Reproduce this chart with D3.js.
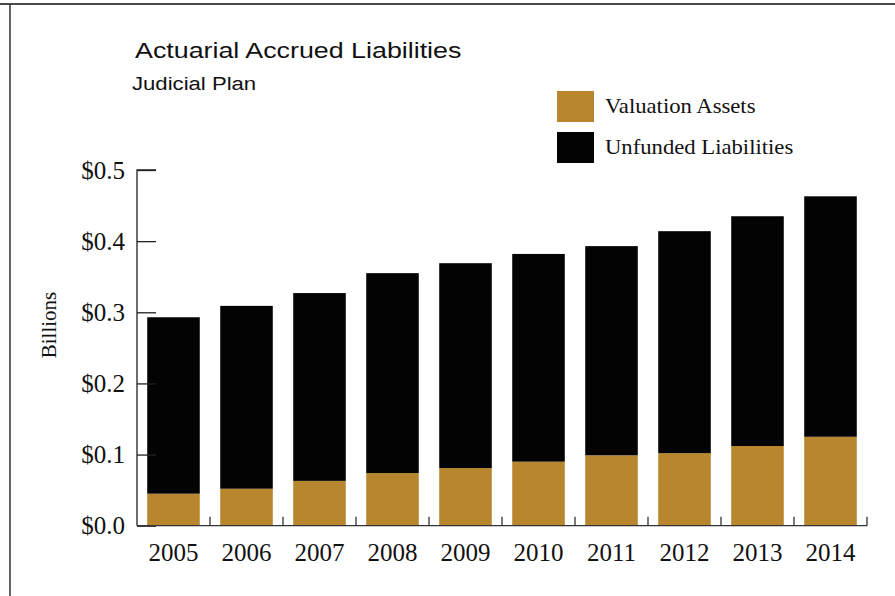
<!DOCTYPE html>
<html>
<head>
<meta charset="utf-8">
<script src="https://cdn.jsdelivr.net/npm/d3@7"></script>
<style>
  html, body { margin: 0; padding: 0; background: #fff; }
  svg { display: block; }
</style>
</head>
<body>
<svg id="chart" width="895" height="596"></svg>
<script>
// Judicial Plan, actuarial accrued liabilities in billions of dollars
const years = ["2005", "2006", "2007", "2008", "2009", "2010", "2011", "2012", "2013", "2014"];
const valuationAssets = [0.045, 0.052, 0.063, 0.074, 0.081, 0.090, 0.099, 0.102, 0.112, 0.125];
const unfundedLiabilities = [0.248, 0.257, 0.264, 0.281, 0.288, 0.292, 0.294, 0.312, 0.323, 0.338];
const yTicks = [0, 0.1, 0.2, 0.3, 0.4, 0.5];
const seriesNames = ["Valuation Assets", "Unfunded Liabilities"];
const seriesColors = ["#b8862f", "#030303"];

const svg = d3.select("#chart");
const serif = "'Liberation Serif', 'DejaVu Serif', serif";
const sans = "'Liberation Sans', Arial, sans-serif";

// outer frame: top and left rules only
svg.append("line").attr("x1", 0).attr("x2", 895).attr("y1", 4).attr("y2", 4)
  .attr("stroke", "#4a4a4a").attr("stroke-width", 2);
svg.append("line").attr("x1", 10).attr("x2", 10).attr("y1", 4).attr("y2", 596)
  .attr("stroke", "#333").attr("stroke-width", 1.5);

const plot = { left: 137, right: 867, top: 170, bottom: 525.7 };

const x = d3.scaleBand().domain(years).range([plot.left, plot.right]).paddingInner(0.28).paddingOuter(0.14);
const y = d3.scaleLinear().domain([0, 0.5]).range([plot.bottom, plot.top]);

const rows = years.map((yr, i) => ({ year: yr, assets: valuationAssets[i], unfunded: unfundedLiabilities[i] }));
const stacked = d3.stack().keys(["assets", "unfunded"])(rows);

svg.append("g").selectAll("g").data(stacked).join("g")
  .attr("fill", (d, i) => seriesColors[i])
  .selectAll("rect").data(d => d).join("rect")
  .attr("x", d => x(d.data.year))
  .attr("width", x.bandwidth())
  .attr("y", d => y(d[1]))
  .attr("height", d => y(d[0]) - y(d[1]));

// y axis: ticks point inward
const yAxis = svg.append("g").attr("transform", `translate(${plot.left},0)`)
  .call(d3.axisRight(y).tickValues(yTicks).tickSize(19).tickFormat(""));
yAxis.select(".domain").attr("d", `M19,${plot.top}H0V${plot.bottom}`).attr("stroke", "#222").attr("stroke-width", 1.3);
yAxis.selectAll(".tick line").attr("stroke", "#222").attr("stroke-width", 1.3);

svg.append("g").selectAll("text").data(yTicks).join("text")
  .attr("x", 125).attr("y", d => y(d) + 8.5)
  .attr("text-anchor", "end")
  .attr("font-family", serif).attr("font-size", 25).attr("fill", "#111")
  .text(d => "$" + d.toFixed(1));

// x axis: line along zero with short upward ticks between bars
const step = x.step();
const bounds = years.map(yr => x(yr) + x.bandwidth() + step * x.paddingInner() / 2);
bounds[bounds.length - 1] = plot.right;
svg.append("line").attr("x1", plot.left).attr("x2", plot.right)
  .attr("y1", plot.bottom).attr("y2", plot.bottom)
  .attr("stroke", "#333").attr("stroke-width", 1.3);
svg.append("g").selectAll("line").data(bounds).join("line")
  .attr("x1", d => d).attr("x2", d => d)
  .attr("y1", plot.bottom).attr("y2", plot.bottom - 9)
  .attr("stroke", "#333").attr("stroke-width", 1.3);

svg.append("g").selectAll("text").data(years).join("text")
  .attr("x", d => x(d) + x.bandwidth() / 2).attr("y", 561)
  .attr("text-anchor", "middle")
  .attr("font-family", serif).attr("font-size", 25).attr("fill", "#111")
  .text(d => d);

// axis title
svg.append("text")
  .attr("transform", "translate(56,325) rotate(-90)")
  .attr("text-anchor", "middle")
  .attr("font-family", serif).attr("font-size", 21).attr("fill", "#111")
  .text("Billions");

// titles (set slightly wide)
svg.append("text").attr("transform", "translate(135,58) scale(1.22,1)")
  .attr("font-family", sans).attr("font-size", 22).attr("fill", "#111")
  .text("Actuarial Accrued Liabilities");
svg.append("text").attr("transform", "translate(132,89.5) scale(1.23,1)")
  .attr("font-family", sans).attr("font-size", 18).attr("fill", "#111")
  .text("Judicial Plan");

// legend
const legend = svg.append("g").selectAll("g").data(seriesNames).join("g")
  .attr("transform", (d, i) => `translate(557,${91 + i * 41})`);
legend.append("rect").attr("width", 37).attr("height", 31)
  .attr("fill", (d, i) => seriesColors[i]);
legend.append("text").attr("transform", "translate(48,22) scale(1.08,1)")
  .attr("font-family", serif).attr("font-size", 21).attr("fill", "#111")
  .text(d => d);
</script>
</body>
</html>
